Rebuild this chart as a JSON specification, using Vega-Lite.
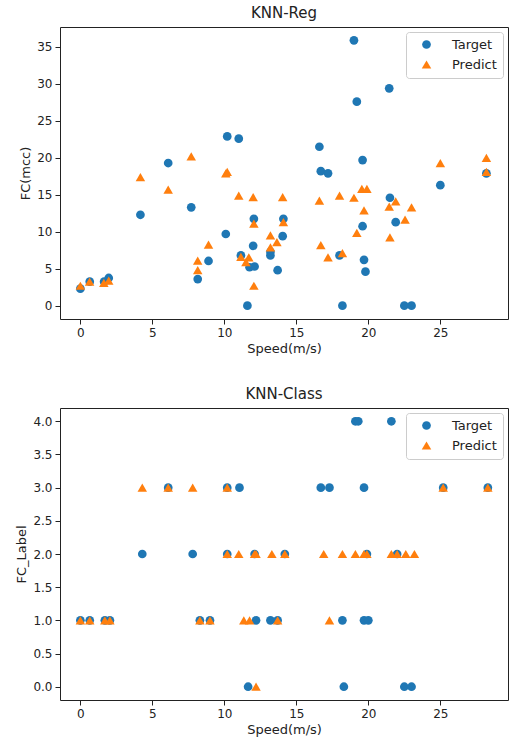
{
  "$schema": "https://vega.github.io/schema/vega-lite/v6.json",
  "background": "white",
  "padding": {"left": 15, "top": 5, "right": 2, "bottom": 3},
  "spacing": 30,
  "config": {
    "font": "DejaVu Sans",
    "view": {"stroke": "#222", "strokeWidth": 1},
    "axis": {"grid": false, "domain": false, "tickColor": "#222", "tickSize": 5, "labelPadding": 3, "labelFontSize": 12, "labelColor": "#222", "titleFontSize": 13, "titleFontWeight": "normal", "titleColor": "#222", "labelFont": "DejaVu Sans", "titleFont": "DejaVu Sans"},
    "title": {"fontSize": 15, "fontWeight": "normal", "color": "#222", "offset": 6, "font": "DejaVu Sans"},
    "legend": {"orient": "top-right", "offset": 5, "fillColor": "white", "strokeColor": "#cccccc", "cornerRadius": 3, "padding": 6, "symbolOffset": 8, "labelOffset": 19, "labelFontSize": 13, "labelColor": "#222", "rowPadding": 6, "labelFont": "DejaVu Sans"}
  },
  "datasets": {
    "reg": [
      {"speed": 0, "fc": 2.3, "series": "Target"},
      {"speed": 0.65, "fc": 3.25, "series": "Target"},
      {"speed": 1.65, "fc": 3.25, "series": "Target"},
      {"speed": 1.97, "fc": 3.75, "series": "Target"},
      {"speed": 4.17, "fc": 12.3, "series": "Target"},
      {"speed": 6.1, "fc": 19.3, "series": "Target"},
      {"speed": 7.7, "fc": 13.3, "series": "Target"},
      {"speed": 8.15, "fc": 3.6, "series": "Target"},
      {"speed": 8.9, "fc": 6.05, "series": "Target"},
      {"speed": 10.1, "fc": 9.7, "series": "Target"},
      {"speed": 10.2, "fc": 22.9, "series": "Target"},
      {"speed": 11.0, "fc": 22.6, "series": "Target"},
      {"speed": 11.15, "fc": 6.8, "series": "Target"},
      {"speed": 11.6, "fc": 0, "series": "Target"},
      {"speed": 11.75, "fc": 5.2, "series": "Target"},
      {"speed": 12.1, "fc": 5.3, "series": "Target"},
      {"speed": 12.0, "fc": 8.1, "series": "Target"},
      {"speed": 12.05, "fc": 11.75, "series": "Target"},
      {"speed": 13.2, "fc": 6.8, "series": "Target"},
      {"speed": 13.2, "fc": 7.3, "series": "Target"},
      {"speed": 13.7, "fc": 4.8, "series": "Target"},
      {"speed": 14.05, "fc": 9.4, "series": "Target"},
      {"speed": 14.1, "fc": 11.75, "series": "Target"},
      {"speed": 16.6, "fc": 21.5, "series": "Target"},
      {"speed": 16.7, "fc": 18.2, "series": "Target"},
      {"speed": 17.2, "fc": 17.9, "series": "Target"},
      {"speed": 18.0, "fc": 6.8, "series": "Target"},
      {"speed": 18.2, "fc": 0, "series": "Target"},
      {"speed": 19.0, "fc": 35.9, "series": "Target"},
      {"speed": 19.2, "fc": 27.6, "series": "Target"},
      {"speed": 19.6, "fc": 19.7, "series": "Target"},
      {"speed": 19.6, "fc": 10.75, "series": "Target"},
      {"speed": 19.7, "fc": 6.2, "series": "Target"},
      {"speed": 19.8, "fc": 4.6, "series": "Target"},
      {"speed": 21.45, "fc": 29.4, "series": "Target"},
      {"speed": 21.5, "fc": 14.6, "series": "Target"},
      {"speed": 21.9, "fc": 11.3, "series": "Target"},
      {"speed": 22.5, "fc": 0, "series": "Target"},
      {"speed": 23.0, "fc": 0, "series": "Target"},
      {"speed": 25.0, "fc": 16.3, "series": "Target"},
      {"speed": 28.2, "fc": 17.9, "series": "Target"},
      {"speed": 0, "fc": 2.7, "series": "Predict"},
      {"speed": 0.64, "fc": 3.25, "series": "Predict"},
      {"speed": 1.63, "fc": 3.1, "series": "Predict"},
      {"speed": 1.97, "fc": 3.4, "series": "Predict"},
      {"speed": 4.17, "fc": 17.4, "series": "Predict"},
      {"speed": 6.1, "fc": 15.7, "series": "Predict"},
      {"speed": 7.7, "fc": 20.2, "series": "Predict"},
      {"speed": 8.15, "fc": 6.1, "series": "Predict"},
      {"speed": 8.15, "fc": 4.8, "series": "Predict"},
      {"speed": 8.9, "fc": 8.25, "series": "Predict"},
      {"speed": 10.1, "fc": 17.9, "series": "Predict"},
      {"speed": 10.2, "fc": 18.1, "series": "Predict"},
      {"speed": 11.0, "fc": 14.9, "series": "Predict"},
      {"speed": 11.15, "fc": 6.6, "series": "Predict"},
      {"speed": 11.5, "fc": 5.9, "series": "Predict"},
      {"speed": 11.7, "fc": 6.55, "series": "Predict"},
      {"speed": 12.0, "fc": 14.7, "series": "Predict"},
      {"speed": 12.05, "fc": 11.1, "series": "Predict"},
      {"speed": 12.05, "fc": 2.7, "series": "Predict"},
      {"speed": 13.2, "fc": 9.5, "series": "Predict"},
      {"speed": 13.2, "fc": 7.9, "series": "Predict"},
      {"speed": 13.65, "fc": 8.6, "series": "Predict"},
      {"speed": 14.05, "fc": 14.7, "series": "Predict"},
      {"speed": 14.1, "fc": 11.3, "series": "Predict"},
      {"speed": 16.6, "fc": 14.2, "series": "Predict"},
      {"speed": 16.7, "fc": 8.2, "series": "Predict"},
      {"speed": 17.2, "fc": 6.55, "series": "Predict"},
      {"speed": 18.0, "fc": 14.9, "series": "Predict"},
      {"speed": 18.2, "fc": 7.1, "series": "Predict"},
      {"speed": 19.0, "fc": 14.6, "series": "Predict"},
      {"speed": 19.2, "fc": 9.85, "series": "Predict"},
      {"speed": 19.55, "fc": 15.8, "series": "Predict"},
      {"speed": 19.9, "fc": 15.8, "series": "Predict"},
      {"speed": 19.7, "fc": 12.9, "series": "Predict"},
      {"speed": 21.45, "fc": 13.4, "series": "Predict"},
      {"speed": 21.5, "fc": 9.25, "series": "Predict"},
      {"speed": 21.9, "fc": 14.1, "series": "Predict"},
      {"speed": 22.55, "fc": 11.65, "series": "Predict"},
      {"speed": 23.0, "fc": 13.3, "series": "Predict"},
      {"speed": 25.0, "fc": 19.3, "series": "Predict"},
      {"speed": 28.2, "fc": 20.0, "series": "Predict"},
      {"speed": 28.2, "fc": 18.1, "series": "Predict"}
    ],
    "cls": [
      {"speed": 19.1, "label": 4, "series": "Target"},
      {"speed": 19.3, "label": 4, "series": "Target"},
      {"speed": 21.6, "label": 4, "series": "Target"},
      {"speed": 6.1, "label": 3, "series": "Target"},
      {"speed": 10.2, "label": 3, "series": "Target"},
      {"speed": 11.05, "label": 3, "series": "Target"},
      {"speed": 16.7, "label": 3, "series": "Target"},
      {"speed": 17.3, "label": 3, "series": "Target"},
      {"speed": 19.7, "label": 3, "series": "Target"},
      {"speed": 25.2, "label": 3, "series": "Target"},
      {"speed": 28.3, "label": 3, "series": "Target"},
      {"speed": 4.3, "label": 2, "series": "Target"},
      {"speed": 7.8, "label": 2, "series": "Target"},
      {"speed": 10.2, "label": 2, "series": "Target"},
      {"speed": 12.1, "label": 2, "series": "Target"},
      {"speed": 14.2, "label": 2, "series": "Target"},
      {"speed": 19.9, "label": 2, "series": "Target"},
      {"speed": 22.0, "label": 2, "series": "Target"},
      {"speed": 0, "label": 1, "series": "Target"},
      {"speed": 0.65, "label": 1, "series": "Target"},
      {"speed": 1.7, "label": 1, "series": "Target"},
      {"speed": 2.05, "label": 1, "series": "Target"},
      {"speed": 8.3, "label": 1, "series": "Target"},
      {"speed": 9.0, "label": 1, "series": "Target"},
      {"speed": 12.2, "label": 1, "series": "Target"},
      {"speed": 13.2, "label": 1, "series": "Target"},
      {"speed": 13.7, "label": 1, "series": "Target"},
      {"speed": 18.2, "label": 1, "series": "Target"},
      {"speed": 19.7, "label": 1, "series": "Target"},
      {"speed": 20.0, "label": 1, "series": "Target"},
      {"speed": 11.65, "label": 0, "series": "Target"},
      {"speed": 18.3, "label": 0, "series": "Target"},
      {"speed": 22.5, "label": 0, "series": "Target"},
      {"speed": 23.0, "label": 0, "series": "Target"},
      {"speed": 4.3, "label": 3, "series": "Predict"},
      {"speed": 6.1, "label": 3, "series": "Predict"},
      {"speed": 7.8, "label": 3, "series": "Predict"},
      {"speed": 10.2, "label": 3, "series": "Predict"},
      {"speed": 25.2, "label": 3, "series": "Predict"},
      {"speed": 28.3, "label": 3, "series": "Predict"},
      {"speed": 10.2, "label": 2, "series": "Predict"},
      {"speed": 11.0, "label": 2, "series": "Predict"},
      {"speed": 12.1, "label": 2, "series": "Predict"},
      {"speed": 12.2, "label": 2, "series": "Predict"},
      {"speed": 13.3, "label": 2, "series": "Predict"},
      {"speed": 14.2, "label": 2, "series": "Predict"},
      {"speed": 16.9, "label": 2, "series": "Predict"},
      {"speed": 18.2, "label": 2, "series": "Predict"},
      {"speed": 19.1, "label": 2, "series": "Predict"},
      {"speed": 19.7, "label": 2, "series": "Predict"},
      {"speed": 19.9, "label": 2, "series": "Predict"},
      {"speed": 21.6, "label": 2, "series": "Predict"},
      {"speed": 22.0, "label": 2, "series": "Predict"},
      {"speed": 22.6, "label": 2, "series": "Predict"},
      {"speed": 23.2, "label": 2, "series": "Predict"},
      {"speed": 0, "label": 1, "series": "Predict"},
      {"speed": 0.65, "label": 1, "series": "Predict"},
      {"speed": 1.7, "label": 1, "series": "Predict"},
      {"speed": 2.05, "label": 1, "series": "Predict"},
      {"speed": 8.3, "label": 1, "series": "Predict"},
      {"speed": 9.0, "label": 1, "series": "Predict"},
      {"speed": 11.35, "label": 1, "series": "Predict"},
      {"speed": 11.75, "label": 1, "series": "Predict"},
      {"speed": 13.7, "label": 1, "series": "Predict"},
      {"speed": 17.3, "label": 1, "series": "Predict"},
      {"speed": 12.2, "label": 0, "series": "Predict"}
    ]
  },
  "resolve": {"legend": {"color": "independent", "shape": "independent", "size": "independent"}},
  "vconcat": [
    {
      "title": "KNN-Reg",
      "width": 448,
      "height": 292,
      "data": {"name": "reg"},
      "mark": {"type": "point", "filled": true, "opacity": 1, "strokeWidth": 0},
      "encoding": {
        "x": {"field": "speed", "type": "quantitative", "title": "Speed(m/s)", "scale": {"domain": [-1.415, 29.7], "nice": false, "zero": false}, "axis": {"values": [0, 5, 10, 15, 20, 25]}},
        "y": {"field": "fc", "type": "quantitative", "title": "FC(mcc)", "scale": {"domain": [-1.8, 37.7], "nice": false, "zero": false}, "axis": {"values": [0, 5, 10, 15, 20, 25, 30, 35]}},
        "color": {"field": "series", "type": "nominal", "scale": {"domain": ["Target", "Predict"], "range": ["#1f77b4", "#ff7f0e"]}, "legend": {"title": null}},
        "shape": {"field": "series", "type": "nominal", "scale": {"domain": ["Target", "Predict"], "range": ["circle", "triangle-up"]}, "legend": {"title": null}},
        "size": {"field": "series", "type": "nominal", "scale": {"domain": ["Target", "Predict"], "range": [76, 90]}, "legend": {"title": null}}
      }
    },
    {
      "title": "KNN-Class",
      "width": 448,
      "height": 292,
      "data": {"name": "cls"},
      "mark": {"type": "point", "filled": true, "opacity": 1, "strokeWidth": 0},
      "encoding": {
        "x": {"field": "speed", "type": "quantitative", "title": "Speed(m/s)", "scale": {"domain": [-1.415, 29.7], "nice": false, "zero": false}, "axis": {"values": [0, 5, 10, 15, 20, 25]}},
        "y": {"field": "label", "type": "quantitative", "title": "FC_Label", "scale": {"domain": [-0.2, 4.2], "nice": false, "zero": false}, "axis": {"values": [0, 0.5, 1, 1.5, 2, 2.5, 3, 3.5, 4], "format": ".1f"}},
        "color": {"field": "series", "type": "nominal", "scale": {"domain": ["Target", "Predict"], "range": ["#1f77b4", "#ff7f0e"]}, "legend": {"title": null}},
        "shape": {"field": "series", "type": "nominal", "scale": {"domain": ["Target", "Predict"], "range": ["circle", "triangle-up"]}, "legend": {"title": null}},
        "size": {"field": "series", "type": "nominal", "scale": {"domain": ["Target", "Predict"], "range": [76, 90]}, "legend": {"title": null}}
      }
    }
  ]
}
